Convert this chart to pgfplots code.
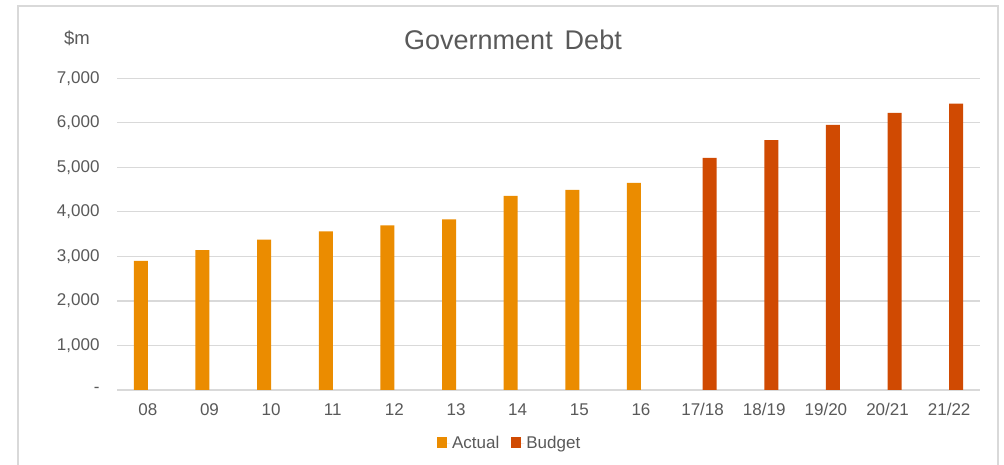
\documentclass[border=0pt]{standalone}
\usepackage{pgfplots}
\pgfplotsset{compat=1.18}
\usepackage{fontspec}
\setmainfont{Liberation Sans}
\definecolor{actualc}{HTML}{EB8C00}
\definecolor{budgetc}{HTML}{D04A02}
\definecolor{txt}{HTML}{595959}
\definecolor{gridc}{HTML}{D9D9D9}
\begin{document}
\begin{tikzpicture}
\useasboundingbox (0pt,0pt) rectangle (1004pt,465pt);
\begin{scope}
\clip (0pt,0pt) rectangle (1004pt,465pt);
\draw[gridc, line width=1.2pt] (18pt,-10pt) rectangle (998pt,459pt);
\end{scope}
\node[text=txt, font=\fontsize{27}{32}\selectfont] at (513pt,425pt) {Government\, Debt};
\node[text=txt, font=\fontsize{18.5}{22}\selectfont] at (77pt,427pt) {\$m};
\begin{axis}[
  at={(117pt,75pt)}, anchor=south west,
  scale only axis, width=863pt, height=311.6pt,
  xmin=-0.5, xmax=13.5, ymin=0, ymax=7000,
  xtick={0,...,13},
  xticklabels={08,09,10,11,12,13,14,15,16,17/18,18/19,19/20,20/21,21/22},
  ytick={0,1000,2000,3000,4000,5000,6000,7000},
  yticklabels={{-},{1,000},{2,000},{3,000},{4,000},{5,000},{6,000},{7,000}},
  major tick length=0pt,
  axis line style={draw=none},
  ymajorgrids, grid style={gridc, line width=1.1pt},
  ticklabel style={text=txt, font=\fontsize{17}{20}\selectfont},
  xticklabel style={yshift=-10pt},
  yticklabel style={xshift=-14pt},
  ybar, bar width=14pt,
  legend style={at={(0.455,-0.135)}, anchor=north, draw=none, fill=none,
     legend columns=2, font=\fontsize{17}{20}\selectfont, text=txt,
     /tikz/every even column/.append style={column sep=10pt}},
  legend image code/.code={\fill[#1] (0pt,-5pt) rectangle (10pt,6pt);
     \path (0pt,0pt) -- (13pt,0pt);},
]
\addplot[fill=actualc, draw=none, bar shift=-7pt] coordinates {
(0,2900) (1,3140) (2,3377) (3,3564) (4,3700) (5,3835) (6,4361) (7,4497) (8,4655)};
\addlegendentry{Actual}
\addplot[fill=budgetc, draw=none, bar shift=7pt] coordinates {
(9,5217) (10,5612) (11,5957) (12,6226) (13,6435)};
\addlegendentry{Budget}
\end{axis}
\end{tikzpicture}
\end{document}
